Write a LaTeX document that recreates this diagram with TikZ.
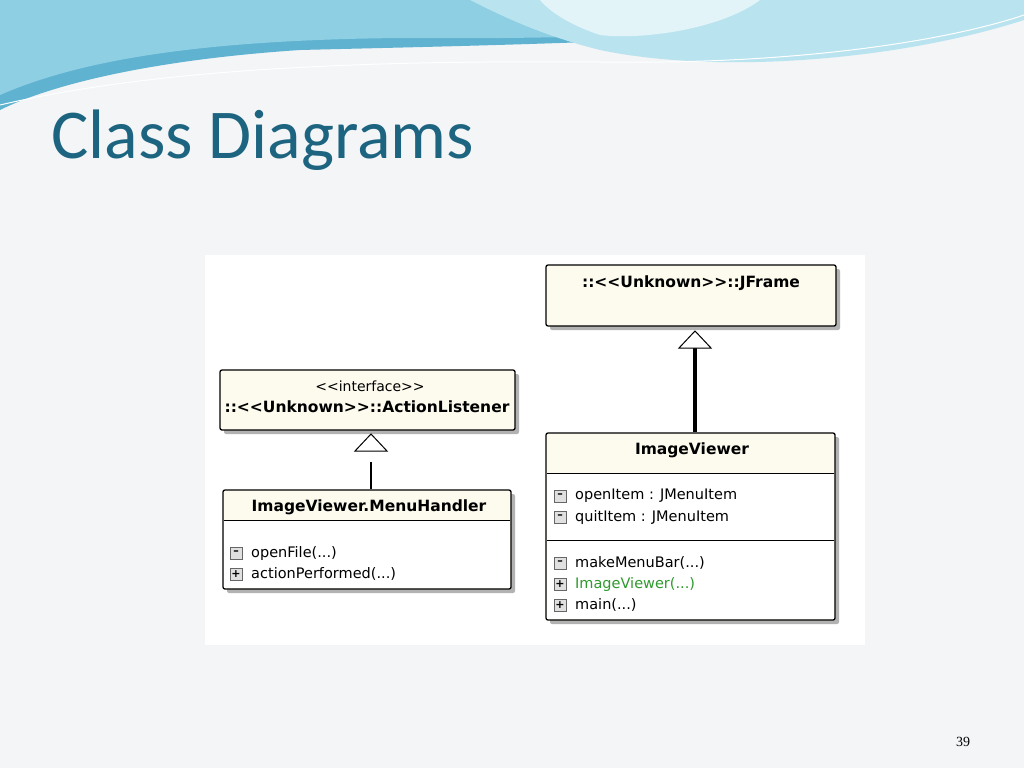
\documentclass[tikz,border=0pt]{standalone}
\usepackage{fontspec}
\setmainfont{DejaVu Sans}
\newfontfamily\titlefont{Carlito}
\newfontfamily\numfont{Liberation Serif}
\usetikzlibrary{arrows.meta}
\definecolor{bg}{HTML}{F3F5F7}
\definecolor{cream}{HTML}{FDFBEE}
\definecolor{teal}{HTML}{1D6480}
\definecolor{wave1}{HTML}{8FCFE3}
\definecolor{wave2}{HTML}{B9E3EF}
\definecolor{wave3}{HTML}{5FB2D0}
\definecolor{grn}{HTML}{2E9A2E}
\tikzset{
 cls/.style={draw=black,line width=1.3pt,fill=cream,rounded corners=2pt},
 shad/.style={fill=black!30,rounded corners=2pt},
 txt/.style={font=\fontsize{14.5}{16}\selectfont,inner sep=0pt,anchor=west},
 bold/.style={font=\fontsize{15.5}{17}\selectfont\bfseries,inner sep=0pt},
 ico/.style={draw=black!60,fill=black!12,minimum size=12pt,inner sep=0pt,font=\fontsize{11}{11}\selectfont\bfseries}
}
\begin{document}
\begin{tikzpicture}[x=1pt,y=-1pt]
\useasboundingbox (0,0) rectangle (1024,768);
\fill[bg] (0,0) rectangle (1024,768);
% header waves
\fill[wave3] (0,0) -- (1024,0) -- (1024,10) .. controls (800,40) and (500,45) .. (300,50) .. controls (150,60) and (50,85) .. (0,110) -- cycle;
\fill[wave1] (0,0) -- (1024,0) -- (1024,5) .. controls (850,30) and (600,40) .. (400,38) .. controls (200,40) and (80,60) .. (0,95) -- cycle;
\fill[wave2] (470,0) -- (1024,0) -- (1024,20) .. controls (900,60) and (720,75) .. (600,50) .. controls (540,35) and (500,15) .. (470,0) -- cycle;
\fill[white!60!wave2] (540,0) -- (760,0) .. controls (720,30) and (640,40) .. (600,35) .. controls (570,25) and (550,12) .. (540,0) -- cycle;
\draw[white,line width=1pt] (0,105) .. controls (150,70) and (350,60) .. (600,62) .. controls (800,65) and (950,40) .. (1024,15);
\node[anchor=west,inner sep=0pt,text=teal,font=\titlefont\fontsize{70}{74}\selectfont] (title) at (51,140) {Class Diagrams};
\node[anchor=center,inner sep=0pt,font=\numfont\fontsize{14}{16}\selectfont] (num) at (963,742) {39};
% diagram panel
\fill[white] (205,255) rectangle (865,645);
% JFrame
\fill[shad] (550,269) rectangle (840,330);
\node[cls,minimum width=290pt,minimum height=61pt,inner sep=0pt] (jframe) at (691,295.5) {};
\node[bold] (jft) at (691,283) {::{<}{<}Unknown{>}{>}::JFrame};
% ActionListener
\fill[shad] (224,374) rectangle (519,434);
\node[cls,minimum width=295pt,minimum height=60pt,inner sep=0pt] (al) at (367.5,400) {};
\node[inner sep=0pt,font=\fontsize{14}{16}\selectfont] (alst) at (370,386) {{<}{<}interface{>}{>}};
\node[bold] (alt) at (367,407) {::{<}{<}Unknown{>}{>}::ActionListener};
% MenuHandler
\fill[shad] (227,494) rectangle (515,593);
\node[cls,minimum width=288pt,minimum height=99pt,inner sep=0pt] (mh) at (367,539.5) {};
\fill[white] (224,521) rectangle (510,588);
\draw[line width=1pt] (224,520) -- (510,520);
\node[bold] (mht) at (369,507) {ImageViewer.MenuHandler};
\node[ico] (i1) at (236,553) {--};
\node[txt] (m1) at (251,553) {openFile(...)};
\node[ico] (i2) at (236,574) {+};
\node[txt] (m2) at (251,574) {actionPerformed(...)};
% ImageViewer
\fill[shad] (550,437) rectangle (839,624);
\node[cls,minimum width=289pt,minimum height=187pt,inner sep=0pt] (iv) at (690.5,526.5) {};
\fill[white] (547,474) rectangle (834,619);
\draw[line width=1pt] (547,473) -- (834,473);
\draw[line width=1pt] (547,540) -- (834,540);
\node[bold] (ivt) at (692,450) {ImageViewer};
\node[ico] (j1) at (560,496) {--};
\node[txt] (a1) at (575,496) {openItem : JMenuItem};
\node[ico] (j2) at (560,517) {--};
\node[txt] (a2) at (575,517) {quitItem : JMenuItem};
\node[ico] (j3) at (560,563) {--};
\node[txt] (o1) at (575,563) {makeMenuBar(...)};
\node[ico] (j4) at (560,584) {+};
\node[txt,text=grn] (o2) at (575,584) {ImageViewer(...)};
\node[ico] (j5) at (560,605) {+};
\node[txt] (o3) at (575,605) {main(...)};
% generalization
\coordinate (jfa) at (695,331);
\coordinate (jfb) at (695,348);
\coordinate (ala) at (371,434);
\coordinate (alb) at (371,462);
\draw[line width=4pt] (iv.north -| jfa) -- (jfb);
\draw[line width=1pt,fill=white] (jfa) -- ++(-16,17) -- ++(32,0) -- cycle;
\draw[line width=1.3pt] (mh.north -| ala) -- (alb);
\draw[line width=1pt,fill=white] (ala) -- ++(-16,17) -- ++(32,0) -- cycle;
\end{tikzpicture}
\end{document}
